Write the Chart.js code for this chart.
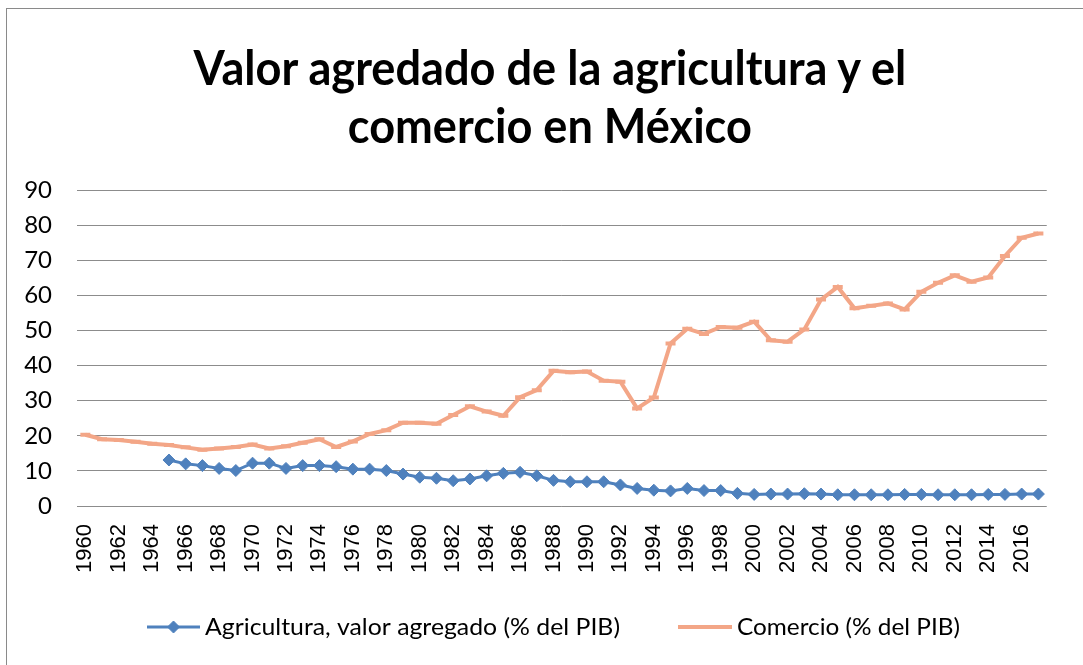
<!DOCTYPE html>
<html lang="es">
<head>
<meta charset="utf-8">
<title>Valor agredado de la agricultura y el comercio en México</title>
<script src="https://cdn.jsdelivr.net/npm/chart.js@4.4.1/dist/chart.umd.min.js"></script>
<style>
  html, body { margin: 0; padding: 0; background: #ffffff; overflow: hidden; }
  #wrap { position: relative; width: 1083px; height: 665px; }
  #frame { position: absolute; left: 6px; top: 8px; width: 1100px; height: 700px; border: 1px solid #8a8a8a; box-sizing: border-box; }
  #chart { position: absolute; left: 0; top: 0; }
  #title { position: absolute; left: 8px; top: 38px; width: 1083px; text-align: center;
           font-family: Lato, "Open Sans", sans-serif; font-weight: 700; font-size: 48px; line-height: 58px; color: #000; }
  #title span { display: inline-block; white-space: nowrap; transform-origin: 50% 50%; }
</style>
</head>
<body>
<div id="wrap">
  <div id="frame"></div>
  <canvas id="chart" width="1083" height="665"></canvas>
  <div id="title"><span id="t1">Valor agredado de la agricultura y el</span><br><span id="t2">comercio en México</span></div>
</div>
<script>
// Years on the category axis
const years = ['1960','1961','1962','1963','1964','1965','1966','1967','1968','1969',
  '1970','1971','1972','1973','1974','1975','1976','1977','1978','1979',
  '1980','1981','1982','1983','1984','1985','1986','1987','1988','1989',
  '1990','1991','1992','1993','1994','1995','1996','1997','1998','1999',
  '2000','2001','2002','2003','2004','2005','2006','2007','2008','2009',
  '2010','2011','2012','2013','2014','2015','2016','2017'];

// Agriculture, value added (% of GDP); no data before 1965
const agricultura = [null, null, null, null, null, 13.1, 12.0, 11.5, 10.7, 10.1,
  12.2, 12.2, 10.7, 11.5, 11.5, 11.2, 10.5, 10.5, 10.1, 9.1,
  8.2, 7.9, 7.2, 7.7, 8.6, 9.3, 9.6, 8.6, 7.3, 6.9,
  6.9, 6.9, 6.0, 5.0, 4.5, 4.3, 5.0, 4.4, 4.4, 3.6,
  3.3, 3.4, 3.4, 3.5, 3.4, 3.2, 3.2, 3.2, 3.2, 3.3,
  3.3, 3.2, 3.2, 3.2, 3.3, 3.3, 3.4, 3.4];

// Trade (% of GDP)
const comercio = [20.3, 19.0, 18.8, 18.3, 17.7, 17.4, 16.7, 16.0, 16.4, 16.8,
  17.5, 16.4, 17.0, 18.0, 19.0, 16.8, 18.4, 20.5, 21.6, 23.7,
  23.7, 23.4, 25.9, 28.4, 26.9, 25.7, 31.0, 33.0, 38.5, 38.1,
  38.3, 35.7, 35.4, 27.8, 30.9, 46.3, 50.5, 49.0, 51.0, 50.8,
  52.5, 47.2, 46.8, 50.3, 58.8, 62.4, 56.3, 57.0, 57.7, 56.0,
  61.0, 63.6, 65.7, 63.9, 65.1, 71.2, 76.4, 77.6];

const yTicks = [0, 10, 20, 30, 40, 50, 60, 70, 80, 90];

const BLUE = '#4f81bd';
const SALMON = '#f3a687';

// Narrow the title lines so they read like a condensed face
(function fitTitle() {
  const c = document.createElement('canvas').getContext('2d');
  c.font = '700 48px Lato';
  const w1 = c.measureText(document.getElementById('t1').textContent).width;
  const k = 716 / w1;
  document.getElementById('t1').style.transform = 'scaleX(' + k + ')';
  document.getElementById('t2').style.transform = 'scaleX(' + k + ')';
})();

// Legend drawn below the axis: line sample with its marker, then the label
const lineLegend = {
  id: 'lineLegend',
  afterDraw(chart) {
    const ctx = chart.ctx;
    const y = 627;
    const entries = [
      { ds: chart.data.datasets[0], x0: 147, x1: 200, tx: 205, tw: 415 },
      { ds: chart.data.datasets[1], x0: 678, x1: 732, tx: 737, tw: 223 }
    ];
    ctx.save();
    entries.forEach(e => {
      ctx.strokeStyle = e.ds.borderColor;
      ctx.lineWidth = e.ds.borderWidth;
      ctx.beginPath();
      ctx.moveTo(e.x0, y);
      ctx.lineTo(e.x1, y);
      ctx.stroke();
      ctx.fillStyle = e.ds.pointBackgroundColor;
      ctx.strokeStyle = e.ds.pointBorderColor;
      ctx.lineWidth = e.ds.pointBorderWidth;
      Chart.helpers.drawPoint(ctx, {
        pointStyle: e.ds.pointStyle,
        radius: e.ds.pointRadius,
        borderWidth: e.ds.pointBorderWidth,
        rotation: 0
      }, (e.x0 + e.x1) / 2, y);
      ctx.font = '24px Lato';
      ctx.textBaseline = 'middle';
      ctx.textAlign = 'left';
      ctx.fillStyle = '#000';
      const w = ctx.measureText(e.ds.label).width;
      ctx.save();
      ctx.translate(e.tx, y);
      ctx.scale(e.tw / w, 1);
      ctx.fillText(e.ds.label, 0, 0);
      ctx.restore();
    });
    ctx.restore();
  }
};

new Chart(document.getElementById('chart'), {
  type: 'line',
  data: {
    labels: years,
    datasets: [
      {
        label: 'Agricultura, valor agregado (% del PIB)',
        data: agricultura,
        borderColor: BLUE,
        backgroundColor: BLUE,
        borderWidth: 3,
        pointStyle: 'rectRot',
        pointRadius: 6,
        pointBorderWidth: 1,
        pointBackgroundColor: BLUE,
        pointBorderColor: BLUE,
        tension: 0,
        spanGaps: false
      },
      {
        label: 'Comercio (% del PIB)',
        data: comercio,
        borderColor: SALMON,
        backgroundColor: SALMON,
        borderWidth: 4,
        pointStyle: 'line',
        pointRadius: 5,
        pointBorderWidth: 4,
        pointBackgroundColor: SALMON,
        pointBorderColor: SALMON,
        tension: 0
      }
    ]
  },
  options: {
    responsive: false,
    animation: false,
    events: [],
    layout: { padding: { top: 190, right: 25, bottom: 59, left: 0 } },
    plugins: {
      legend: { display: false },
      title: { display: false },
      tooltip: { enabled: false }
    },
    scales: {
      x: {
        type: 'category',
        offset: true,
        grid: { display: false, drawTicks: false },
        border: { display: false },
        ticks: {
          autoSkip: false,
          minRotation: 90,
          maxRotation: 90,
          padding: 18,
          color: '#000',
          font: { family: '"Liberation Sans", Arial, sans-serif', size: 22 },
          callback: function (value, index) {
            return index % 2 === 0 ? years[index] : '';
          }
        },
        afterFit(scale) { scale.height = 100; }
      },
      y: {
        min: 0,
        max: 90,
        afterBuildTicks(scale) { scale.ticks = yTicks.map(v => ({ value: v })); },
        grid: { color: '#8c8c8c', lineWidth: 1, drawTicks: false },
        border: { display: false },
        ticks: {
          padding: 25,
          color: '#000',
          font: { family: 'Lato, sans-serif', size: 24 }
        },
        afterFit(scale) { scale.width = 77; }
      }
    }
  },
  plugins: [lineLegend]
});
</script>
</body>
</html>
